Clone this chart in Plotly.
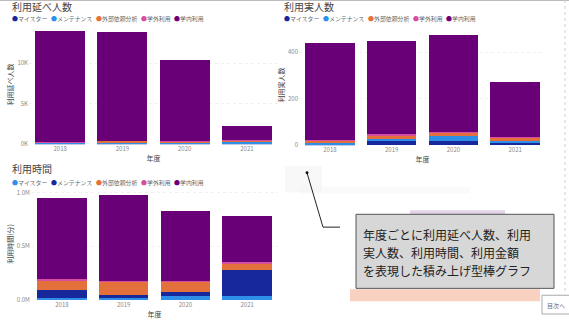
import plotly.graph_objects as go

W, H = 569, 320
years = ["2018", "2019", "2020", "2021"]
series = ["マイスター", "メンテナンス", "外部依頼分析", "学外利用", "学内利用"]
callout_lines = ["年度ごとに利用延べ人数、利用", "実人数、利用時間、利用金額", "を表現した積み上げ型棒グラフ"]

# Chart 1: 利用延べ人数
c1_meister = [80, 60, 180, 60]
c1_maint = [120, 150, 100, 330]
c1_gaibu = [90, 220, 120, 80]
c1_gakugai = [20, 20, 20, 10]
c1_gakunai = [13690, 13450, 9980, 1820]

# Chart 2: 利用実人数
c2_meister = [5, 17, 17, 14]
c2_maint = [5, 11, 23, 5]
c2_gaibu = [10, 17, 14, 16]
c2_gakugai = [2, 1, 1, 1]
c2_gakunai = [416, 401, 420, 235]

# Chart 3: 利用時間(分)
c3_meister = [21000, 21000, 37000, 37000]
c3_maint = [77000, 31000, 36000, 243000]
c3_gaibu = [92000, 122000, 107000, 69000]
c3_gakugai = [3000, 3000, 3000, 3000]
c3_gakunai = [761000, 798000, 649000, 428000]

DARK = "#16289c"
LIGHT = "#2d8fe8"
ORANGE = "#e4703c"
PINK = "#d64ea2"
PURPLE = "#6a0078"

FONT = "Noto Sans CJK JP"

def px_x(p):
    return p / W

def px_y(p):
    return 1 - p / H

fig = go.Figure()

charts = [
    (["x", "y"], [c1_meister, c1_maint, c1_gaibu, c1_gakugai, c1_gakunai], [DARK, LIGHT, ORANGE, PINK, PURPLE]),
    (["x2", "y2"], [c2_meister, c2_maint, c2_gaibu, c2_gakugai, c2_gakunai], [DARK, LIGHT, ORANGE, PINK, PURPLE]),
    (["x3", "y3"], [c3_meister, c3_maint, c3_gaibu, c3_gakugai, c3_gakunai], [LIGHT, DARK, ORANGE, PINK, PURPLE]),
]
for (xa, ya), vals, cols in charts:
    for name, v, c in zip(series, vals, cols):
        fig.add_trace(go.Bar(x=years, y=v, name=name, marker=dict(color=c, line=dict(width=0)),
                             xaxis=xa, yaxis=ya, showlegend=False))

tickfont = dict(family=FONT, size=6, color="#8a8a8a")
titlefont = dict(family=FONT, size=7, color="#444")

def xaxis(dom, anchor):
    return dict(domain=dom, anchor=anchor, type="category", tickfont=tickfont, showgrid=False,
                showline=False, ticks="", fixedrange=True,
                title=dict(text="年度", font=titlefont, standoff=3))

def yaxis(dom, anchor, rng, tv, tt, title):
    return dict(domain=dom, anchor=anchor, range=rng, tickvals=tv, ticktext=tt, tickfont=tickfont,
                showgrid=True, gridcolor="#f0f0f0", gridwidth=1, griddash="dot", zeroline=False,
                ticks="", fixedrange=True,
                title=dict(text=title, font=titlefont, standoff=2))

fig.update_layout(
    width=W, height=H, margin=dict(l=0, r=0, t=0, b=0),
    paper_bgcolor="white", plot_bgcolor="white",
    barmode="stack", bargap=0.2,
    font=dict(family=FONT),
    xaxis=xaxis([px_x(29), px_x(278)], "y"),
    yaxis=yaxis([px_y(146), px_y(25)], "x", [0, 14750], [0, 5000, 10000], ["0K", "5K", "10K"], "利用延べ人数"),
    xaxis2=xaxis([px_x(299), px_x(546)], "y2"),
    yaxis2=yaxis([px_y(147), px_y(25)], "x2", [0, 519], [0, 200, 400], ["0", "200", "400"], "利用実人数"),
    xaxis3=xaxis([px_x(31), px_x(278)], "y3"),
    yaxis3=yaxis([px_y(304), px_y(190)], "x3", [0, 1046000], [0, 500000, 1000000], ["0.0M", "0.5M", "1.0M"], "利用時間(分)"),
)

anns = []
def title(text, x, y):
    anns.append(dict(text=text, x=px_x(x), y=px_y(y), xref="paper", yref="paper", xanchor="left",
                     yanchor="middle", showarrow=False, borderpad=0,
                     font=dict(family=FONT, size=10, color="#444")))

LEG_OFFS = [0, 39, 84, 129, 162]
def legend(x, y, cols):
    for off, name, c in zip(LEG_OFFS, series, cols):
        anns.append(dict(text="●", x=px_x(x + off), y=px_y(y), xref="paper", yref="paper",
                         xanchor="left", yanchor="middle", showarrow=False, borderpad=0,
                         font=dict(family=FONT, size=5.9, color=c)))
        anns.append(dict(text=name, x=px_x(x + off + 6), y=px_y(y), xref="paper", yref="paper",
                         xanchor="left", yanchor="middle", showarrow=False, borderpad=0,
                         font=dict(family=FONT, size=5.9, color="#666")))

title("利用延べ人数", 11, 7)
legend(11, 19, [DARK, LIGHT, ORANGE, PINK, PURPLE])
title("利用実人数", 283, 7)
legend(283, 19, [DARK, LIGHT, ORANGE, PINK, PURPLE])
title("利用時間", 11, 171)
legend(11, 184.5, [LIGHT, DARK, ORANGE, PINK, PURPLE])

shapes = []
# top border
shapes.append(dict(type="line", xref="paper", yref="paper", x0=0, x1=1, y0=px_y(0.5), y1=px_y(0.5),
                   line=dict(color="#bbbbbb", width=1)))
# right dotted line
shapes.append(dict(type="line", xref="paper", yref="paper", x0=px_x(565), x1=px_x(565), y0=px_y(0), y1=px_y(298),
                   line=dict(color="#d0d0d0", width=1, dash="dot")))
# blurred background hints
shapes.append(dict(type="rect", xref="paper", yref="paper", x0=px_x(285), x1=px_x(322), y0=px_y(195), y1=px_y(168),
                   fillcolor="#ececec", opacity=0.35, line=dict(width=0), layer="below"))
shapes.append(dict(type="rect", xref="paper", yref="paper", x0=px_x(300), x1=px_x(470), y0=px_y(196), y1=px_y(189),
                   fillcolor="#f2f2f2", opacity=0.4, line=dict(width=0), layer="below"))
shapes.append(dict(type="rect", xref="paper", yref="paper", x0=px_x(410), x1=px_x(505), y0=px_y(220), y1=px_y(213),
                   fillcolor="#b894c4", opacity=0.4, line=dict(width=0), layer="below"))
shapes.append(dict(type="rect", xref="paper", yref="paper", x0=px_x(350), x1=px_x(540), y0=px_y(305), y1=px_y(293),
                   fillcolor="#f2a482", opacity=0.5, line=dict(width=0), layer="below"))
# connector
shapes.append(dict(type="path", xref="paper", yref="paper",
                   path=f"M {px_x(307)} {px_y(175)} L {px_x(323)} {px_y(230)} L {px_x(340)} {px_y(230)}",
                   line=dict(color="#222", width=1)))
shapes.append(dict(type="circle", xref="paper", yref="paper", x0=px_x(305.5), x1=px_x(308.5), y0=px_y(176.5), y1=px_y(173.5),
                   fillcolor="#111", line=dict(width=0)))
# callout box
shapes.append(dict(type="rect", xref="paper", yref="paper", x0=px_x(356), x1=px_x(554), y0=px_y(292), y1=px_y(217),
                   fillcolor="#d7d7d7", line=dict(color="#555", width=1)))
# 目次へ button
shapes.append(dict(type="rect", xref="paper", yref="paper", x0=px_x(542), x1=px_x(571), y0=px_y(318), y1=px_y(299),
                   fillcolor="white", line=dict(color="#aaa", width=1)))

for i, line in enumerate(callout_lines):
    anns.append(dict(text=line, x=px_x(362), y=px_y(237 + 18.5 * i), xref="paper", yref="paper",
                     xanchor="left", yanchor="middle", showarrow=False, borderpad=0,
                     font=dict(family=FONT, size=12, color="#222")))
anns.append(dict(text="目次へ", x=px_x(545), y=px_y(309), xref="paper", yref="paper", xanchor="left",
                 yanchor="middle", showarrow=False, font=dict(family=FONT, size=6, color="#667")))

fig.update_layout(annotations=anns, shapes=shapes)
fig.write_html("out.html")
